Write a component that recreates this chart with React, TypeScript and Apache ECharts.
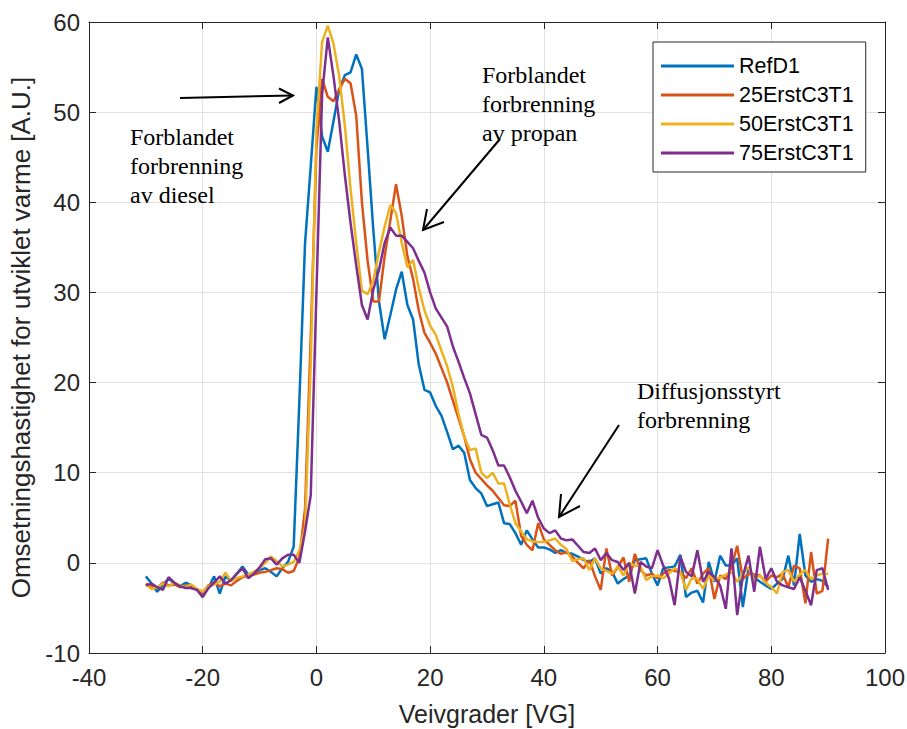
import React, { useEffect, useRef } from "react";
import * as echarts from "echarts";

const START_ANGLE = -30;
const seriesNames = ["RefD1", "25ErstC3T1", "50ErstC3T1", "75ErstC3T1"];
const colors = ["#0072BD", "#D95319", "#EDB120", "#7E2F8E"];

const refD1 = [
  -1.5, -2.3, -3.2, -2.5, -1.7, -2.3, -2.6, -2.2, -2.5, -3.0,
  -3.6, -2.8, -1.5, -3.4, -1.5, -2.0, -1.2, -0.4, -1.3, -1.1,
  -0.8, -0.6, -1.0, -1.5, -0.6, 0.1, 1.8, 18, 35.5, 44,
  52.8, 47.3, 45.6, 49, 52.5, 54.1, 54.4, 56.4, 54.8, 46,
  37, 29, 24.8, 27.5, 30.3, 32.3, 28.6, 27, 22, 19.2,
  18.9, 17.4, 16.3, 14.5, 12.6, 13, 12.2, 9.2, 8.3, 7.7,
  6.3, 6.5, 6.7, 4.4, 4.3, 3.3, 2, 3.6, 2.6, 1.7,
  1.7, 1.5, 1.1, 1.4, 1.1, 1.0, 0.7, 0.3, 0.1, 0.5,
  -1.2, -0.6, -1.0, -2.3, -1.8, -1.4, 0.3, 0.4, 0.5, -1.2,
  -2.5, -0.6, -0.5, -0.4, 0.9, -3.8, -3.3, -3.1, -4.4, 0.1,
  -2.1, 0.8, -0.3, -0.3, 0.5, -4.9, -0.6, -1.6, -2.1, -2.5,
  -2.9, -2.3, -1.8, 0.8, -2.5, 3.2, -1.4, -2.1, -1.8, -2.0, -2.7,
];

const erst25 = [
  -2.3, -2.6, -2.8, -2.2, -2.5, -2.4, -2.7, -2.5, -2.8, -3.0,
  -3.3, -2.5, -2.2, -2.6, -2.3, -2.5, -2.0, -1.6, -1.4, -1.3,
  -1.1, -1.0, -0.8, -0.6, -0.7, -1.1, -0.9, 0.6, 6, 25,
  46, 53.7, 51.7, 51.2, 52.5, 53.7, 53.2, 49.6, 40, 33.5,
  29, 29, 34, 38, 42, 38.5, 34, 31.5, 28, 25.5,
  24.4, 23.2, 21.6, 20, 18, 16, 14, 11.5, 10, 9.3,
  8.6, 8, 7.2, 6.4, 6.3, 6.9, 3, 2, 1.4, 4.4,
  2.6, 2, 1.4, 1, 1.2, 0.7, 0, -0.6, 0.3, -1.5,
  -3, 1.6, -1.4, -0.5, 0.6, -2.1, 1, -0.8, -1.4, -1.2,
  -1.7, -1.2, -0.8, -0.9, -1, -1.7, -0.6, -2.3, -1.2, -0.6,
  -4, -1.4, -1.8, -0.5, 1.9, -1.8, -1.2, -1.3, -1.4, -2.1,
  -1.4, -1.6, -1.2, -2.7, -0.3, -0.6, -4.5, 1.2, -3.4, -3.1, 2.7,
];

const erst50 = [
  -2.4, -2.9, -2.7, -2.3, -2.6, -2.2, -2.5, -2.7, -2.4, -2.9,
  -3.2, -2.6, -2.4, -2.1, -1.1, -2.0, -1.7, -1.5, -1.3, -1.0,
  -0.6, 0, 0.7, 0.2, -0.4, -0.2, 0.1, 1.4, 4, 22,
  48, 57.8, 59.6, 57.6, 54, 48.5, 41.5, 35.5, 30.2, 29.8,
  31.3, 34.5, 37.3, 39.7, 38.8, 35.5, 32.8, 33.6, 30.5, 28,
  26.3, 25.3, 23.5, 21.8, 19.5, 16.5, 14, 12.5, 12.7, 10,
  9.4, 10, 8.8, 8.8, 6.5, 4.4, 3.5, 2.6, 2.4, 2.3,
  2.3, 2.5, 2.7, 2, 1.5, 0.2, 0.4, 0.5, -0.8, 0.5,
  -0.6, -0.9, -1.2, -0.4, -1.4, 0, -0.3, -0.4, -1.9, -1.5,
  -1.4, -1.7, -1.2, -0.6, -1, -3, -1.7, -1.8, -2.9, -1.4,
  -1.9, -1.6, -1.3, -1, -2.1, -1.2, -0.5, -1.9, -1.4, -2.2,
  -2.7, -3.4, -1, -0.8, -2.1, -1.3, -0.8, -1.8, -1.4, -1.2, -1.2,
];

const erst75 = [
  -2.5, -2.3, -2.7, -3.0, -1.6, -2.2, -2.6, -2.8, -2.8, -3.0,
  -3.8, -2.8, -2.2, -1.5, -2.3, -1.9, -1.2, -0.6, -1.7, -1.2,
  -0.5, 0.4, 0.5, -0.2, 0.5, 0.9, 0.9, 0, 3.5, 7.5,
  30, 52, 58.3, 54, 49, 43, 37.7, 33, 28.6, 27,
  30.3, 32.5, 35.5, 37.2, 36.3, 36.3, 35.6, 34.9, 33.5, 32.2,
  30, 28.2, 27.2, 26.2, 24, 22.3, 20.5, 18.8, 16.5, 14.2,
  13.9, 12.5, 10.8, 10.8, 9.5, 8, 6.8, 5.5, 6.9, 5,
  3.8, 3.3, 3.6, 2.7, 2.5, 2.6, 1.9, 1.2, 1.1, 1.6,
  0.3, 1.1, 0.3, 0.1, -0.8, 0, -3.4, 0.1, -0.4, -0.6,
  1.4, -0.3, -1.7, -4.7, 0.7, -1, -1.5, 1.4, -2.1, -1,
  -1.6, -2.5, -5.1, 1.6, -5.8, -1.5, 0.8, -3.2, 1.8, -1.8,
  -0.6, -2.1, -2.5, -2.7, -2.9, -1.6, -3.1, -4.7, -0.8, -0.6, -3,
];

const allValues = [refD1, erst25, erst50, erst75];

const xTicks = { min: -40, max: 100, interval: 20 };
const yTicks = { min: -10, max: 60, interval: 10 };

const xLabel = "Veivgrader [VG]";
const yLabel = "Omsetningshastighet for utviklet varme [A.U.]";

const annotations = [
  { text: "Forblandet\nforbrenning\nav diesel", x: 130, y: 122 },
  { text: "Forblandet\nforbrenning\nav propan", x: 482, y: 60 },
  { text: "Diffusjonsstyrt\nforbrenning", x: 637, y: 376 },
];

const arrows = [
  { tail: [180, 98], tip: [293, 95.5], b1: [279, 88.5], b2: [279, 103] },
  { tail: [500, 139], tip: [423, 230], b1: [427, 209], b2: [444, 222] },
  { tail: [619, 425], tip: [559, 517], b1: [561, 494], b2: [580, 506] },
];

const AXIS_COLOR = "#262626";
const GRID_COLOR = "#e2e2e2";
const SANS = "Liberation Sans";

export default function App() {
  const ref = useRef<HTMLDivElement>(null);

  useEffect(() => {
    if (!ref.current) return;
    const chart = echarts.init(ref.current, undefined, { renderer: "svg" });

    const series = allValues.map((vals, si) => ({
      name: seriesNames[si],
      type: "line",
      xAxisIndex: 0,
      yAxisIndex: 0,
      showSymbol: false,
      symbol: "none",
      lineStyle: { color: colors[si], width: 2.5 },
      itemStyle: { color: colors[si] },
      data: vals.map((v, i) => [START_ANGLE + i, v]),
      z: 3 + si,
    }));

    const graphics: any[] = [];
    annotations.forEach((a) => {
      graphics.push({
        type: "text",
        z: 100,
        style: {
          text: a.text,
          x: a.x,
          y: a.y,
          fill: "#000",
          font: '24px "Liberation Serif"',
          lineHeight: 29,
          align: "left",
          verticalAlign: "top",
        },
      });
    });
    arrows.forEach((ar) => {
      graphics.push({
        type: "line",
        z: 100,
        shape: { x1: ar.tail[0], y1: ar.tail[1], x2: ar.tip[0], y2: ar.tip[1] },
        style: { stroke: "#000", lineWidth: 2 },
      });
      graphics.push({
        type: "polyline",
        z: 100,
        shape: { points: [ar.b1, ar.tip, ar.b2] },
        style: { stroke: "#000", lineWidth: 2, fill: null },
      });
    });

    const option: any = {
      animation: false,
      backgroundColor: "#ffffff",
      grid: {
        left: 89,
        right: 22,
        top: 22,
        bottom: 76,
        containLabel: false,
        outerBoundsMode: "none",
      },
      legend: {
        data: seriesNames,
        orient: "vertical",
        left: 653,
        top: 42,
        padding: [13, 12, 8, 8],
        itemGap: 7,
        itemWidth: 73,
        itemHeight: 3,
        icon: "rect",
        borderColor: AXIS_COLOR,
        borderWidth: 1,
        backgroundColor: "#ffffff",
        textStyle: { fontSize: 21.5, color: "#000", fontFamily: SANS },
        z: 50,
      },
      xAxis: [
        {
          type: "value",
          position: "bottom",
          ...xTicks,
          axisLine: { show: true, onZero: false, lineStyle: { color: AXIS_COLOR, width: 1 } },
          axisTick: { show: true, inside: true, length: 7, lineStyle: { color: AXIS_COLOR } },
          axisLabel: { color: AXIS_COLOR, fontSize: 24, fontFamily: SANS, margin: 12 },
          splitLine: { show: true, lineStyle: { color: GRID_COLOR, width: 1 } },
          name: xLabel,
          nameLocation: "middle",
          nameGap: 48,
          nameTextStyle: { color: AXIS_COLOR, fontSize: 25, lineHeight: 25, fontFamily: SANS },
        },
        {
          type: "value",
          position: "top",
          ...xTicks,
          axisLine: { show: true, onZero: false, lineStyle: { color: AXIS_COLOR, width: 1 } },
          axisTick: { show: true, inside: true, length: 7, lineStyle: { color: AXIS_COLOR } },
          axisLabel: { show: false },
          splitLine: { show: false },
        },
      ],
      yAxis: [
        {
          type: "value",
          position: "left",
          ...yTicks,
          axisLine: { show: true, onZero: false, lineStyle: { color: AXIS_COLOR, width: 1 } },
          axisTick: { show: true, inside: true, length: 7, lineStyle: { color: AXIS_COLOR } },
          axisLabel: { color: AXIS_COLOR, fontSize: 24, fontFamily: SANS, margin: 9 },
          splitLine: { show: true, lineStyle: { color: GRID_COLOR, width: 1 } },
          name: yLabel,
          nameLocation: "middle",
          nameGap: 54,
          nameTextStyle: { color: AXIS_COLOR, fontSize: 26, fontFamily: SANS },
        },
        {
          type: "value",
          position: "right",
          ...yTicks,
          axisLine: { show: true, onZero: false, lineStyle: { color: AXIS_COLOR, width: 1 } },
          axisTick: { show: true, inside: true, length: 7, lineStyle: { color: AXIS_COLOR } },
          axisLabel: { show: false },
          splitLine: { show: false },
        },
      ],
      series,
      graphic: graphics,
    };

    chart.setOption(option);
    return () => chart.dispose();
  }, []);

  return (
    <div
      ref={ref}
      style={{ position: "absolute", left: 0, top: 0, width: 907, height: 729, background: "#fff" }}
    />
  );
}
